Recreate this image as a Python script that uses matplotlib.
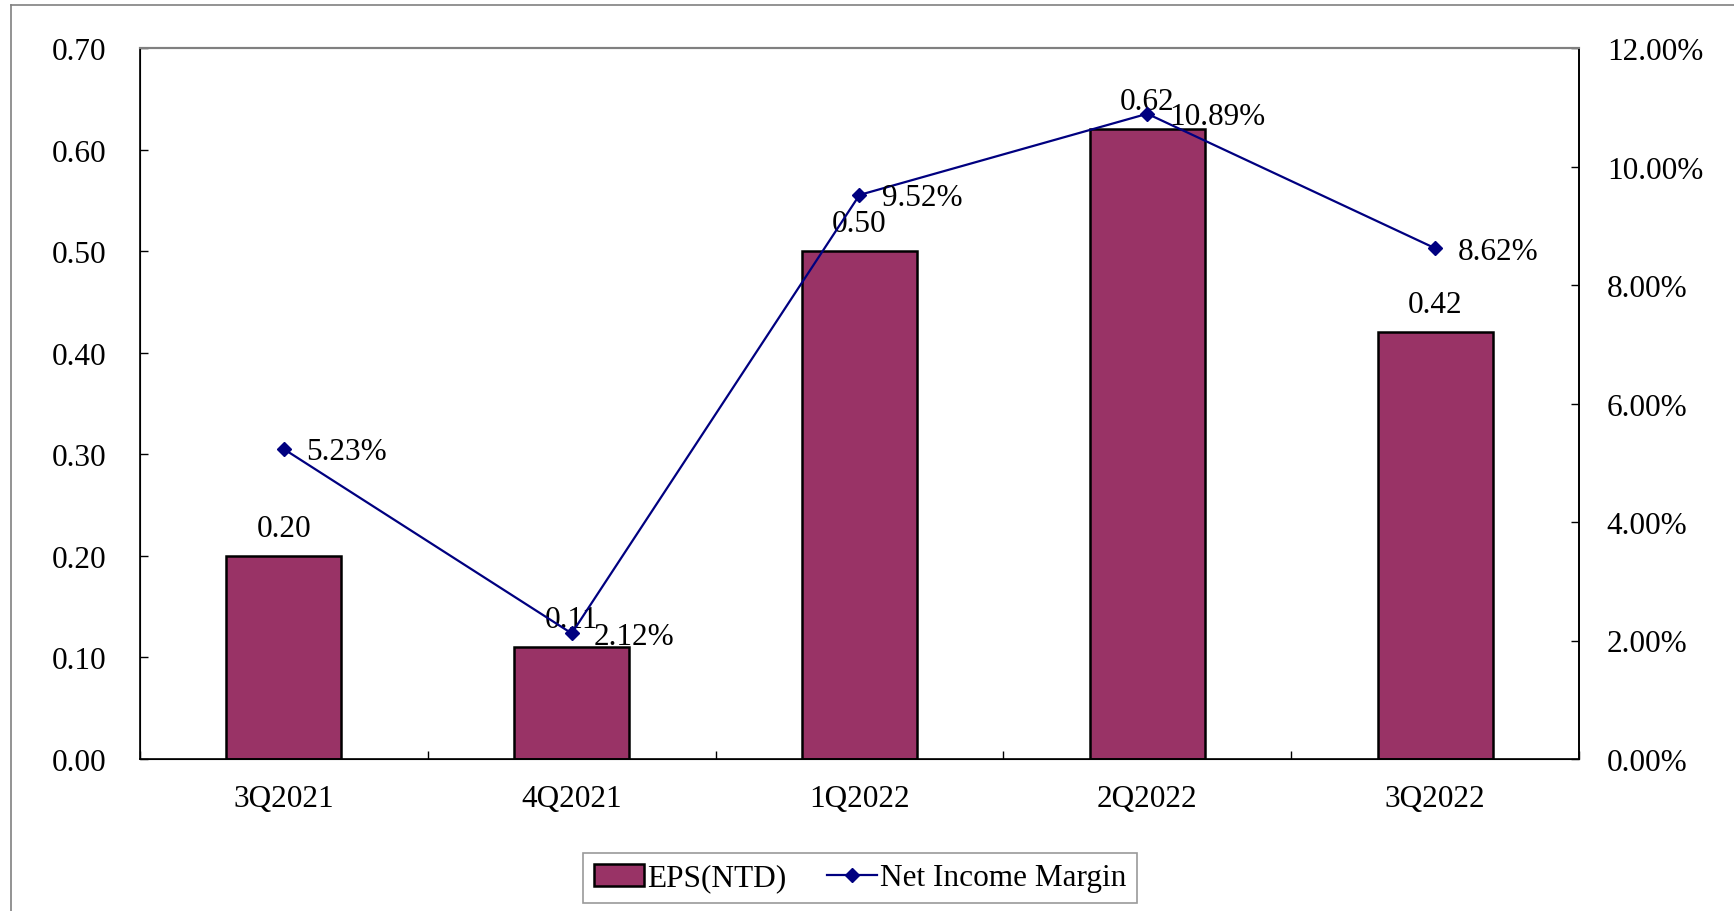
import matplotlib
matplotlib.use('Agg')
import matplotlib.pyplot as plt
from matplotlib.lines import Line2D
from matplotlib.patches import Patch
import numpy as np

plt.rcParams['font.family'] = ['Liberation Serif', 'DejaVu Serif']

quarters = ['3Q2021', '4Q2021', '1Q2022', '2Q2022', '3Q2022']
eps = [0.20, 0.11, 0.50, 0.62, 0.42]
margin = [5.23, 2.12, 9.52, 10.89, 8.62]

bar_color = '#993366'
line_color = '#000080'
fs = 22.5

fig = plt.figure(figsize=(17.34, 9.12), dpi=100)
ax = fig.add_axes([140 / 1734, 1 - 760 / 912, (1579 - 140) / 1734, (760 - 49) / 912])

x = np.arange(len(quarters))
ax.bar(x, eps, width=0.4, color=bar_color, edgecolor='black', linewidth=1.8, zorder=2)
ax.set_xlim(-0.5, len(quarters) - 0.5)
ax.set_ylim(0, 0.70)
ax.set_yticks(np.arange(0, 0.71, 0.10))
ax.set_yticklabels(['%.2f' % v for v in np.arange(0, 0.71, 0.10)], fontsize=fs)
ax.set_xticks(x)
ax.set_xticklabels(quarters, fontsize=fs)
ax.set_xticks(np.arange(-0.5, len(quarters), 1.0), minor=True)
ax.tick_params(axis='x', which='major', length=0, pad=18)
ax.tick_params(axis='x', which='minor', direction='in', length=6, width=1)
ax.tick_params(axis='y', direction='in', length=6, width=1, pad=24)

for s in ['left', 'right', 'bottom']:
    ax.spines[s].set_color('black')
    ax.spines[s].set_linewidth(1.2)
ax.spines['top'].set_color('#808080')
ax.spines['top'].set_linewidth(1.5)

for xi, v in zip(x, eps):
    ax.annotate('%.2f' % v, (xi, v), xytext=(0, 14.5), textcoords='offset points',
                ha='center', va='baseline', fontsize=fs, zorder=5)

ax2 = ax.twinx()
ax2.plot(x, margin, color=line_color, linewidth=1.6, marker='D', markersize=7.2, zorder=3)
ax2.set_ylim(0, 12)
ax2.set_yticks(np.arange(0, 12.1, 2))
ax2.set_yticklabels(['%.2f%%' % v for v in np.arange(0, 12.1, 2)], fontsize=fs)
ax2.tick_params(axis='y', direction='in', length=6, width=1, pad=20)
ax2.spines['top'].set_color('#808080')
ax2.spines['top'].set_linewidth(1.5)
ax2.spines['right'].set_linewidth(1.2)

for xi, v in zip(x, margin):
    ax2.annotate('%.2f%%' % v, (xi, v), xytext=(16, -2), textcoords='offset points',
                 ha='left', va='center', fontsize=fs, zorder=5)

handles = [Patch(facecolor=bar_color, edgecolor='black', linewidth=1.8),
           Line2D([], [], color=line_color, linewidth=1.6, marker='D', markersize=7.2)]
leg = fig.legend(handles, ['EPS(NTD)', 'Net Income Margin'], loc='center',
                 bbox_to_anchor=(860 / 1734, 1 - 879 / 912), ncol=2, fontsize=fs,
                 frameon=True, fancybox=False, edgecolor='#808080', borderpad=0.35,
                 handlelength=1.6, handletextpad=0.1, columnspacing=1.3,
                 borderaxespad=0)
leg.get_frame().set_linewidth(1.2)

# outer chart border
fig.add_artist(Line2D([11 / 1734, 11 / 1734], [0, 1 - 6 / 912], color='#808080', linewidth=1.2))
fig.add_artist(Line2D([11 / 1734, 1], [1 - 6 / 912, 1 - 6 / 912], color='#808080', linewidth=1.2))

fig.savefig('out.png', dpi=100)
